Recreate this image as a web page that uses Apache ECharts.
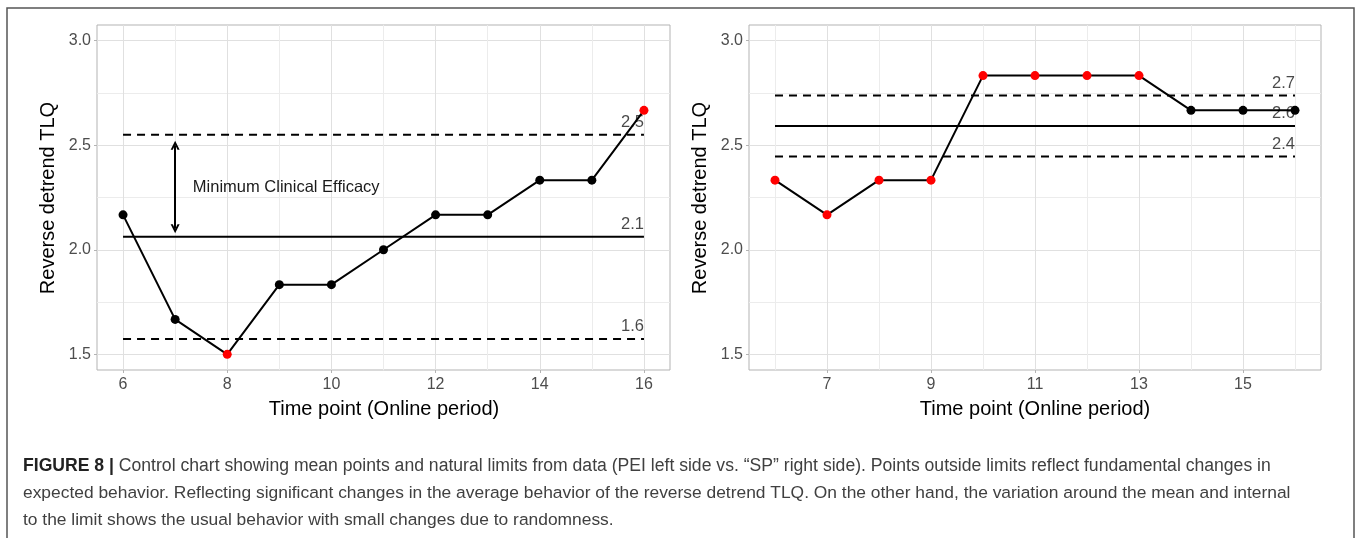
<!DOCTYPE html>
<html>
<head>
<meta charset="utf-8">
<script src="https://cdn.jsdelivr.net/npm/echarts@6/dist/echarts.min.js"></script>
<style>
  html, body { margin: 0; padding: 0; background: #ffffff; }
  #chart { width: 1357px; height: 538px; }
</style>
</head>
<body>
<div id="chart"></div>
<script>
// ---------- data ----------
const timePoints = [6, 7, 8, 9, 10, 11, 12, 13, 14, 15, 16];
const peiValues = [2.167, 1.667, 1.5, 1.833, 1.833, 2.0, 2.167, 2.167, 2.333, 2.333, 2.667];
const spValues  = [2.333, 2.167, 2.333, 2.333, 2.833, 2.833, 2.833, 2.833, 2.667, 2.667, 2.667];

// limits: [LCL, mean, UCL]
const peiLimits = [1.573, 2.062, 2.55];
const peiLimitLabels = ['1.6', '2.1', '2.5'];
const spLimits = [2.446, 2.592, 2.738];
const spLimitLabels = ['2.4', '2.6', '2.7'];
const limitStart = 6;
const limitEnd = 16;

// annotation (left panel)
const arrowX = 7;
const arrowFrom = 2.5;
const arrowTo = 2.1;
const noteText = 'Minimum Clinical Efficacy';
const notePos = [7.34, 2.3];

// ticks
const leftXMajor = [6, 8, 10, 12, 14, 16];
const leftXMinor = [7, 9, 11, 13, 15];
const rightXMajor = [7, 9, 11, 13, 15];
const rightXMinor = [6, 8, 10, 12, 14, 16];
const yMajor = [1.5, 2.0, 2.5, 3.0];
const yMinor = [1.75, 2.25, 2.75];

const xTitle = 'Time point (Online period)';
const yTitle = 'Reverse detrend TLQ';
const captionLines = [
  'Control chart showing mean points and natural limits from data (PEI left side vs. \u201cSP\u201d right side). Points outside limits reflect fundamental changes in',
  'expected behavior. Reflecting significant changes in the average behavior of the reverse detrend TLQ. On the other hand, the variation around the mean and internal',
  'to the limit shows the usual behavior with small changes due to randomness.'
];
const captionLead = 'FIGURE 8 |';

// ---------- styling helpers ----------
const FONT = '"Liberation Sans", Arial, Helvetica, sans-serif';
const X_MIN = 5.5, X_MAX = 16.5, Y_MIN = 1.425, Y_MAX = 3.075;
const MAJOR_GRID = '#e0e0e0';
const MINOR_GRID = '#ececec';
const CHEVRON = 'path://M0,10 L5,0 L10,10 L7.6,10 L5,4.6 L2.4,10 Z';

function mainX(gridIndex, majors) {
  return {
    type: 'value', gridIndex: gridIndex, min: X_MIN, max: X_MAX,
    axisLine: { show: false },
    axisTick: { show: true, customValues: majors, length: 3, lineStyle: { color: '#b3b3b3' } },
    axisLabel: { show: true, customValues: majors, margin: 7, fontSize: 16, color: '#4d4d4d', fontFamily: FONT,
                 formatter: v => String(v) },
    splitLine: { show: true, lineStyle: { color: MAJOR_GRID, width: 1 } }
  };
}
function minorX(gridIndex, minors) {
  return {
    type: 'value', gridIndex: gridIndex, min: X_MIN, max: X_MAX, position: 'bottom',
    axisLine: { show: false },
    axisTick: { show: false, customValues: minors },
    axisLabel: { show: false, customValues: minors },
    splitLine: { show: true, lineStyle: { color: MINOR_GRID, width: 1 } }
  };
}
function mainY(gridIndex) {
  return {
    type: 'value', gridIndex: gridIndex, min: Y_MIN, max: Y_MAX,
    axisLine: { show: false },
    axisTick: { show: true, customValues: yMajor, length: 3, lineStyle: { color: '#b3b3b3' } },
    axisLabel: { show: true, customValues: yMajor, margin: 6, fontSize: 16, color: '#4d4d4d', fontFamily: FONT,
                 formatter: v => v.toFixed(1) },
    splitLine: { show: true, lineStyle: { color: MAJOR_GRID, width: 1 } }
  };
}
function minorY(gridIndex) {
  return {
    type: 'value', gridIndex: gridIndex, min: Y_MIN, max: Y_MAX, position: 'left',
    axisLine: { show: false },
    axisTick: { show: false, customValues: yMinor },
    axisLabel: { show: false, customValues: yMinor },
    splitLine: { show: true, lineStyle: { color: MINOR_GRID, width: 1 } }
  };
}

function dataSeries(values, limits, axisIdx, extra) {
  const lo = limits[0], hi = limits[2];
  const s = {
    type: 'line', xAxisIndex: axisIdx, yAxisIndex: axisIdx, z: 5,
    symbol: 'circle', symbolSize: 9, showSymbol: true,
    lineStyle: { color: '#000000', width: 2 },
    itemStyle: { color: '#000000' },
    data: timePoints.map((x, i) => ({
      value: [x, values[i]],
      itemStyle: { color: (values[i] < lo || values[i] > hi) ? '#ff0000' : '#000000' }
    }))
  };
  return Object.assign(s, extra || {});
}

function limitSeries(limits, axisIdx) {
  return limits.map((v, i) => ({
    type: 'line', xAxisIndex: axisIdx, yAxisIndex: axisIdx, z: 3,
    symbol: 'none', silent: true,
    lineStyle: { color: '#000000', width: 2, type: i === 1 ? 'solid' : [8, 6] },
    data: [[limitStart, v], [limitEnd, v]]
  }));
}

function limitLabelSeries(limits, labels, axisIdx) {
  return {
    type: 'scatter', xAxisIndex: axisIdx, yAxisIndex: axisIdx, z: 4,
    symbolSize: 0, silent: true,
    label: { show: true, position: 'top', align: 'right', distance: 4,
             fontSize: 16.5, color: '#1a1a1a', fontFamily: FONT,
             formatter: p => labels[p.dataIndex] },
    data: limits.map(v => [limitEnd, v])
  };
}

const chart = echarts.init(document.getElementById('chart'), null, { renderer: 'canvas' });

const option = {
  animation: false,
  backgroundColor: '#ffffff',
  grid: [
    { left: 97, top: 25, width: 573, height: 345, show: true, borderColor: '#b3b3b3', borderWidth: 1, backgroundColor: 'transparent' },
    { left: 749, top: 25, width: 572, height: 345, show: true, borderColor: '#b3b3b3', borderWidth: 1, backgroundColor: 'transparent' }
  ],
  xAxis: [ mainX(0, leftXMajor), minorX(0, leftXMinor), mainX(1, rightXMajor), minorX(1, rightXMinor) ],
  yAxis: [ mainY(0), minorY(0), mainY(1), minorY(1) ],
  series: [
    ...limitSeries(peiLimits, 0),
    ...limitSeries(spLimits, 2),
    limitLabelSeries(peiLimits, peiLimitLabels, 0),
    limitLabelSeries(spLimits, spLimitLabels, 2),
    dataSeries(peiValues, peiLimits, 0, {
      markLine: {
        silent: true, symbol: [CHEVRON, CHEVRON], symbolSize: [9, 9], animation: false,
        lineStyle: { color: '#000000', width: 2, type: 'solid' },
        itemStyle: { color: '#000000' },
        label: { show: false },
        data: [[{ coord: [arrowX, arrowFrom] }, { coord: [arrowX, arrowTo] }]]
      },
      markPoint: {
        silent: true, symbol: 'circle', symbolSize: 0, animation: false,
        label: { show: true, position: 'right', distance: 0, fontSize: 16.5, color: '#1a1a1a', fontFamily: FONT,
                 formatter: noteText },
        data: [{ coord: notePos }]
      }
    }),
    dataSeries(spValues, spLimits, 2)
  ],
  graphic: [
    { type: 'rect', shape: { x: 7, y: 8, width: 1347, height: 540 }, style: { fill: 'none', stroke: '#555555', lineWidth: 1.5 }, silent: true },
    { type: 'text', x: 48, y: 198, rotation: Math.PI / 2,
      style: { text: yTitle, fontSize: 20, fill: '#000000', fontFamily: FONT, align: 'center', verticalAlign: 'middle' } },
    { type: 'text', x: 700, y: 198, rotation: Math.PI / 2,
      style: { text: yTitle, fontSize: 20, fill: '#000000', fontFamily: FONT, align: 'center', verticalAlign: 'middle' } },
    { type: 'text', x: 384, y: 409,
      style: { text: xTitle, fontSize: 20, fill: '#000000', fontFamily: FONT, align: 'center', verticalAlign: 'middle' } },
    { type: 'text', x: 1035, y: 409,
      style: { text: xTitle, fontSize: 20, fill: '#000000', fontFamily: FONT, align: 'center', verticalAlign: 'middle' } },
    { type: 'text', x: 23, y: 466,
      style: { text: '{b|' + captionLead + '} ' + captionLines[0], fontSize: 17.6, fill: '#404040', fontFamily: FONT,
               align: 'left', verticalAlign: 'middle',
               rich: { b: { fontWeight: 'bold', fontSize: 17.6, fill: '#222222', fontFamily: FONT } } } },
    { type: 'text', x: 23, y: 493,
      style: { text: captionLines[1], fontSize: 17.4, fill: '#404040', fontFamily: FONT, align: 'left', verticalAlign: 'middle' } },
    { type: 'text', x: 23, y: 520,
      style: { text: captionLines[2], fontSize: 17.4, fill: '#404040', fontFamily: FONT, align: 'left', verticalAlign: 'middle' } }
  ]
};

chart.setOption(option);
</script>
</body>
</html>
